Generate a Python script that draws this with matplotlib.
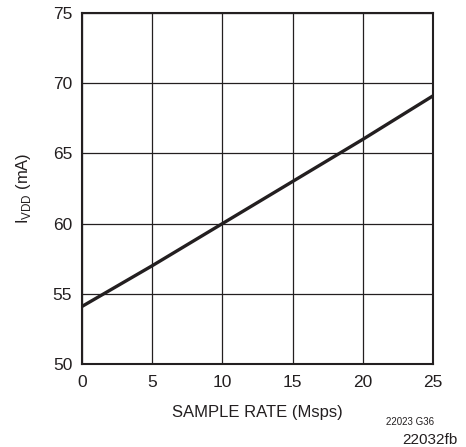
import matplotlib
matplotlib.use("Agg")
import matplotlib.pyplot as plt
from matplotlib import font_manager

names = {f.name for f in font_manager.fontManager.ttflist}
fam = "Liberation Sans Narrow" if "Liberation Sans Narrow" in names else "Liberation Sans"
plt.rcParams['font.family'] = [fam, 'DejaVu Sans']
plt.rcParams['mathtext.fontset'] = 'custom'
plt.rcParams['mathtext.rm'] = fam

sample_rate = [0, 5, 10, 15, 20, 25]
ivdd = [54.1, 57.0, 60.0, 63.0, 66.0, 69.1]
xticks = [0, 5, 10, 15, 20, 25]
yticks = [50, 55, 60, 65, 70, 75]

fig = plt.figure(figsize=(4.66, 4.47), dpi=100)
ax = fig.add_axes([82/466, 1 - 364/447, (433-82)/466, (364-13)/447])
ax.plot(sample_rate, ivdd, color='#231f20', lw=2.4, solid_capstyle='butt')
ax.set_xlim(0, 25)
ax.set_ylim(50, 75)
ax.set_xticks(xticks)
ax.set_yticks(yticks)
ax.grid(True, color='#231f20', lw=0.9)
ax.set_axisbelow(True)
for s in ax.spines.values():
    s.set_linewidth(1.5)
    s.set_color('#231f20')
ax.tick_params(length=0, labelsize=12.5, colors='#231f20')
ax.tick_params(axis='x', pad=8)
ax.tick_params(axis='y', pad=7)
ax.set_xlabel('SAMPLE RATE (Msps)', fontsize=12, labelpad=11, color='#231f20')
ax.set_ylabel(r'I$_{\mathregular{VDD}}$ (mA)', fontsize=12, labelpad=14, color='#231f20')
fig.text(410/466, 1 - 422/447, '22023 G36', fontsize=7, ha='center', va='center', color='#231f20')
fig.text(430/466, 1 - 440/447, '22032fb', fontsize=11, ha='center', va='center', color='#231f20')
fig.savefig('out.png', dpi=100)
